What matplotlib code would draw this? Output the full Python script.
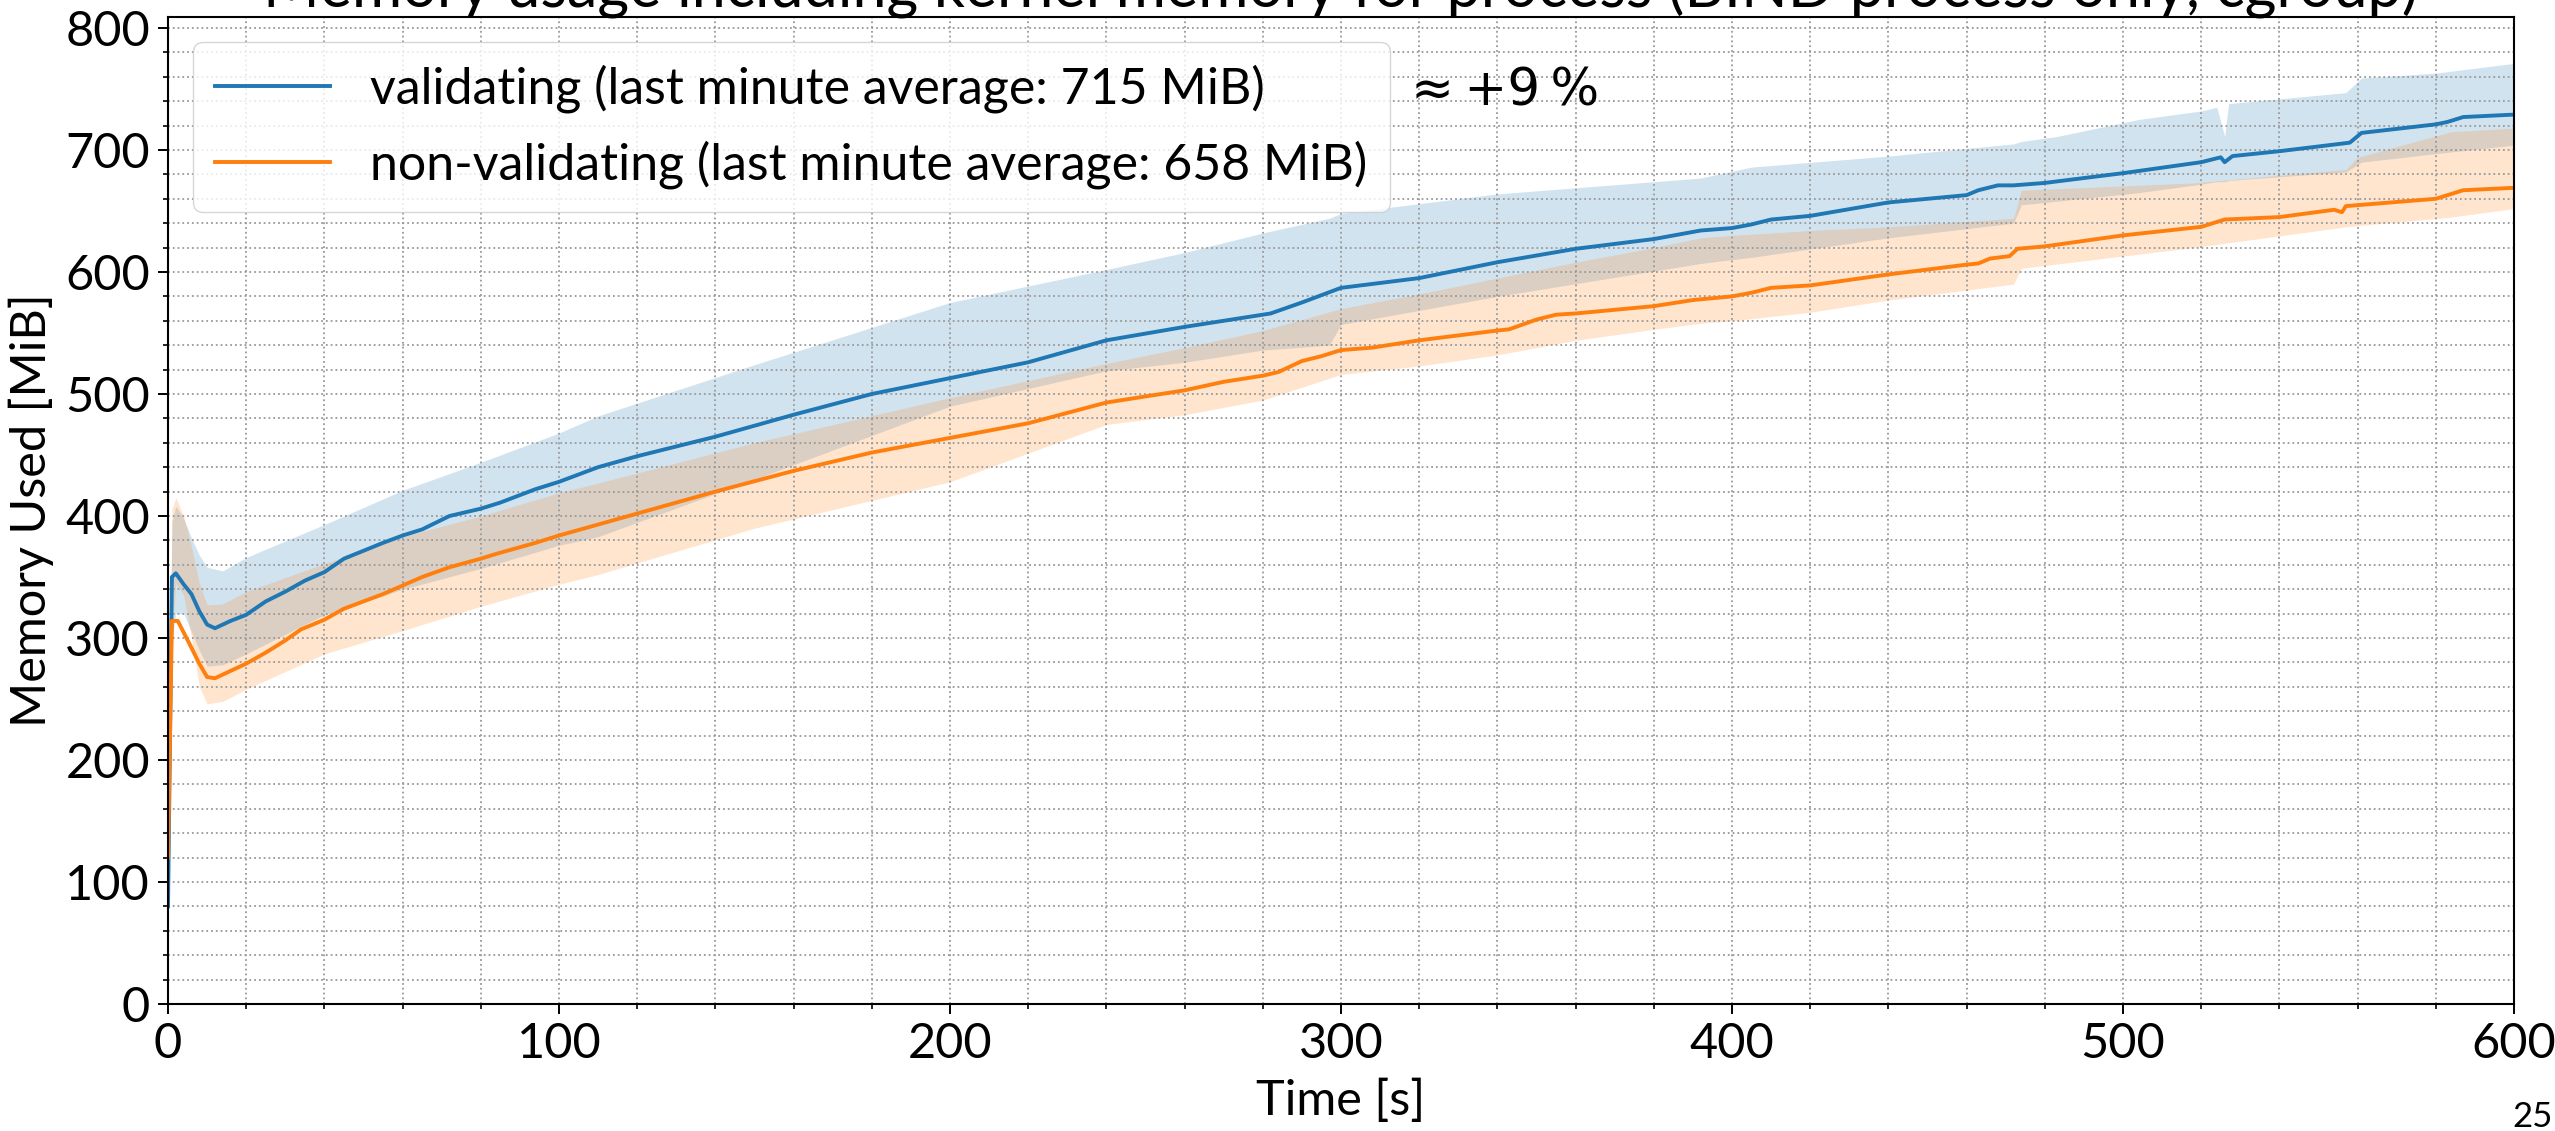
import matplotlib
matplotlib.use('Agg')
import matplotlib.pyplot as plt
from matplotlib.ticker import MultipleLocator

plt.rcParams['font.family'] = ['Lato', 'DejaVu Sans']

# validating run: mean line
t_val = [0, 1, 2, 4, 6, 8, 10, 12, 16, 20, 25, 30, 35, 40, 45, 55, 60, 65, 72, 80, 85, 94,
         100, 110, 120, 140, 160, 180, 200, 220, 240, 260, 282, 290, 300, 320, 340, 360, 380,
         392, 400, 405, 410, 420, 440, 460, 463, 468, 472, 480, 500, 520, 525, 526, 528, 540,
         558, 561, 580, 583, 587, 600]
mem_val = [80, 350, 353, 344, 336, 322, 311, 308, 314, 319, 330, 338, 347, 354, 365, 378, 384,
           389, 400, 406, 411, 422, 428, 440, 449, 465, 483, 500, 513, 526, 544, 555, 566, 575,
           587, 595, 608, 619, 627, 634, 636, 639, 643, 646, 657, 663, 667, 671, 671, 673, 681,
           690, 694, 690, 695, 699, 706, 714, 721, 723, 727, 729]

# non-validating run: mean line
t_non = [0, 1, 2.5, 6, 8, 10, 12, 16, 20, 25, 30, 34, 40, 45, 55, 60, 65, 72, 80, 84, 94, 100,
         110, 120, 140, 160, 180, 200, 220, 240, 246, 260, 270, 280, 284, 290, 295, 300, 308,
         320, 330, 340, 343, 350, 355, 360, 380, 390, 400, 405, 410, 420, 440, 460, 463, 466,
         471, 473, 480, 500, 520, 526, 540, 554, 556, 557, 580, 587, 600]
mem_non = [120, 314, 314, 292, 279, 268, 267, 273, 279, 288, 298, 307, 315, 324, 336, 343, 350,
           358, 365, 369, 378, 384, 393, 402, 420, 437, 452, 464, 476, 493, 496, 503, 510, 515,
           518, 527, 531, 536, 538, 544, 548, 552, 553, 561, 565, 566, 572, 577, 580, 583, 587,
           589, 598, 606, 607, 611, 613, 619, 621, 630, 637, 643, 645, 651, 649, 654, 660, 667,
           669]

# validating run: min / max band
t_val_band = [0, 1, 2, 4, 6, 8, 10, 14, 20, 40, 60, 80, 100, 110, 150, 200, 240, 260, 280, 297,
              300, 340, 392, 405, 440, 472, 474, 483, 504, 520, 524, 526, 527, 557, 561, 580, 600]
val_hi = [120, 395, 408, 398, 382, 368, 358, 355, 366, 393, 421, 444, 468, 482, 524, 575, 602,
          616, 632, 644, 648, 664, 677, 686, 695, 705, 707, 711, 725, 732, 735, 711, 738, 747,
          759, 763, 771]
val_lo = [80, 300, 320, 320, 305, 290, 277, 278, 287, 319, 340, 357, 376, 383, 430, 490, 519,
          526, 536, 540, 557, 580, 607, 612, 628, 640, 655, 658, 665, 672, 674, 674, 675, 682,
          690, 697, 704]

# non-validating run: min / max band
t_non_band = [0, 1, 2, 4, 6, 8, 10, 14, 20, 40, 60, 80, 100, 110, 150, 200, 240, 260, 280, 300,
              320, 340, 360, 380, 392, 400, 420, 440, 472, 474, 518, 557, 560, 584, 600]
non_hi = [120, 405, 415, 400, 375, 345, 327, 328, 338, 361, 383, 400, 419, 427, 460, 497, 525,
          538, 552, 570, 582, 595, 608, 620, 628, 630, 634, 637, 644, 667, 673, 684, 694, 715, 718]
non_lo = [100, 300, 345, 335, 300, 260, 246, 248, 258, 287, 306, 326, 344, 352, 390, 428, 475,
          483, 495, 516, 523, 532, 544, 553, 558, 560, 567, 577, 590, 603, 620, 637, 638, 645, 652]

avg_val = 715
avg_non = 658

fig = plt.figure(figsize=(25.55, 11.31), dpi=100)
ax = fig.add_axes([168 / 2555, 1 - 1004 / 1131, (2514 - 168) / 2555, (1004 - 17) / 1131])

ax.fill_between(t_val_band, val_lo, val_hi, color='C0', alpha=0.2, linewidth=0)
ax.fill_between(t_non_band, non_lo, non_hi, color='C1', alpha=0.2, linewidth=0)
ax.plot(t_val, mem_val, color='C0', linewidth=2.8,
        label='validating (last minute average: %d MiB)' % avg_val)
ax.plot(t_non, mem_non, color='C1', linewidth=2.8,
        label='non-validating (last minute average: %d MiB)' % avg_non)

ax.set_xlim(0, 600)
ax.set_ylim(0, 809)
ax.xaxis.set_major_locator(MultipleLocator(100))
ax.xaxis.set_minor_locator(MultipleLocator(20))
ax.yaxis.set_major_locator(MultipleLocator(100))
ax.yaxis.set_minor_locator(MultipleLocator(20))
ax.grid(True, which='both', linestyle=':', color='0.6', linewidth=1.3)
ax.tick_params(which='major', length=7, width=1.4, labelsize=35, pad=6)
ax.tick_params(which='minor', length=3.5, width=1.2)
for s in ax.spines.values():
    s.set_linewidth(1.5)

ax.set_xlabel('Time [s]', fontsize=35, labelpad=9)
ax.set_ylabel('Memory Used [MiB]', fontsize=35, labelpad=8)

ax.legend(loc='upper left', fontsize=36, handlelength=2.3, borderpad=0.45,
          labelspacing=0.55)
ax.text(318, 748, '\u2248\u2009+9\u2009%', fontsize=37, family='DejaVu Sans', va='center')

fig.text(1341 / 2555, 1 - 6 / 1131,
         'Memory usage including kernel memory for process (BIND process only, cgroup)',
         fontsize=44, ha='center', va='baseline')
fig.text(0.999, 1 - 1127 / 1131, '25', fontsize=25, ha='right', va='baseline')

fig.savefig('out.png', dpi=100)
